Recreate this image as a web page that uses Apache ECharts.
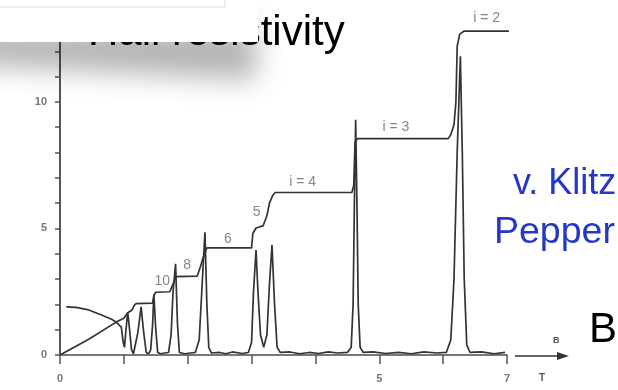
<!DOCTYPE html>
<html>
<head>
<meta charset="utf-8">
<script src="https://cdn.jsdelivr.net/npm/echarts@6/dist/echarts.min.js"></script>
<style>html,body{margin:0;padding:0;background:#fff;}#c{width:618px;height:390px;}</style>
</head>
<body>
<div id="c"></div>
<script>
// Magnetic field B (T) vs Hall resistivity rho_xy (kOhm)
const hallData = [
  [0,0],[0.45,0.62],[0.88,1.3],[1.0,1.45],[1.04,1.6],[1.08,1.7],[1.13,1.78],[1.16,1.95],[1.19,2.03],[1.45,2.05],
  [1.47,2.35],[1.5,2.48],[1.72,2.5],[1.77,2.8],[1.82,3.1],[2.15,3.12],[2.2,3.5],[2.26,4.0],[2.3,4.23],
  [3.0,4.23],[3.02,4.8],[3.07,5.02],[3.12,5.06],[3.18,5.1],[3.24,5.5],[3.28,6.0],[3.33,6.3],[3.37,6.42],
  [4.57,6.42],[4.6,6.7],[4.62,8.4],[4.66,8.55],[6.08,8.55],[6.12,8.7],[6.17,9.1],[6.2,10.0],[6.22,12.2],
  [6.26,12.68],[6.33,12.8],[7.03,12.8]
];
// Longitudinal resistivity rho_xx
const rhoXXData = [
  [0.1,1.9],[0.25,1.88],[0.45,1.78],[0.65,1.58],[0.8,1.42],[0.88,1.3],[0.96,1.1],
  [0.99,0.5],[1.01,0.3],[1.03,0.9],[1.06,1.7],[1.09,1.0],[1.12,0.2],[1.15,0.05],[1.18,0.1],[1.22,0.9],
  [1.27,1.9],[1.31,0.9],[1.35,0.1],[1.39,0.05],[1.42,0.2],[1.45,1.2],[1.47,2.4],[1.5,1.0],[1.53,0.1],
  [1.58,0.05],[1.64,0.08],[1.7,0.1],[1.74,0.8],[1.77,2.5],[1.81,3.6],[1.84,1.2],[1.87,0.1],[1.95,0.05],
  [2.05,0.08],[2.12,0.1],[2.18,0.6],[2.22,2.5],[2.27,4.85],[2.3,2.0],[2.33,0.3],[2.37,0.08],[2.5,0.1],
  [2.6,0.05],[2.7,0.12],[2.85,0.06],[2.95,0.1],[3.0,0.5],[3.03,2.5],[3.07,4.15],[3.1,2.5],[3.14,0.8],
  [3.19,0.3],[3.24,0.8],[3.28,2.8],[3.32,4.35],[3.36,2.0],[3.4,0.3],[3.45,0.1],[3.6,0.12],[3.75,0.05],
  [3.9,0.1],[4.05,0.06],[4.2,0.12],[4.35,0.08],[4.5,0.1],[4.56,0.3],[4.59,2.0],[4.61,6.0],[4.63,9.3],
  [4.65,6.0],[4.67,2.0],[4.7,0.3],[4.75,0.1],[4.9,0.12],[5.1,0.06],[5.3,0.1],[5.5,0.05],[5.7,0.12],
  [5.9,0.08],[6.05,0.1],[6.12,0.6],[6.17,3],[6.22,8],[6.27,11.8],[6.3,8],[6.33,3],[6.37,0.4],[6.42,0.1],
  [6.6,0.12],[6.8,0.05],[6.97,0.1]
];
// Plateau labels [B, value, text]
const plateauLabels = [
  [1.6,2.9,'10'],[1.99,3.55,'8'],[2.63,4.58,'6'],[3.08,5.65,'5'],
  [3.8,6.84,'i = 4'],[5.26,9.0,'i = 3'],[6.68,13.3,'i = 2']
];
const xLabelTicks = [0,5,7];
const yLabelTicks = [0,5,10];
const titleText = 'Hall resistivity';
const authorLines = ['v. Klitzing', 'Pepper'];

const chart = echarts.init(document.getElementById('c'), null, {renderer:'canvas'});
const font = "'Liberation Sans', Arial, sans-serif";
const OFF = 2000;
chart.setOption({
  animation: false,
  backgroundColor: '#fff',
  title: {
    text: titleText, left: 83, top: 7,
    textStyle: {fontSize: 42, fontWeight: 'normal', color: '#000', fontFamily: font}
  },
  grid: {left: 60, right: 111, top: 26, bottom: 35},
  xAxis: {
    type: 'value', min: 0, max: 7, interval: 1,
    axisLine: {lineStyle: {color: '#777', width: 2}},
    axisTick: {length: 9, lineStyle: {color: '#555', width: 1.5}},
    axisLabel: {
      margin: 18, fontSize: 11, color: '#777', fontFamily: font, fontWeight: 'bold',
      formatter: v => xLabelTicks.includes(v) ? String(v) : ''
    },
    splitLine: {show: false}
  },
  yAxis: {
    type: 'value', min: 0, max: 13, interval: 1,
    axisLine: {show: true, lineStyle: {color: '#555', width: 2}},
    axisTick: {show: true, length: 5, lineStyle: {color: '#555', width: 1.5}},
    axisLabel: {
      margin: 13, fontSize: 11, color: '#777', fontFamily: font, fontWeight: 'bold',
      formatter: v => yLabelTicks.includes(v) ? String(v) : ''
    },
    splitLine: {show: false}
  },
  series: [
    {type: 'line', data: hallData, showSymbol: false, lineStyle: {color: '#333', width: 1.7}},
    {type: 'line', data: rhoXXData, showSymbol: false, lineStyle: {color: '#333', width: 1.7}},
    {type: 'scatter', clip: false, symbolSize: 0,
     data: plateauLabels.map(d => ({value: [d[0], d[1]], name: d[2]})),
     label: {show: true, position: 'inside', formatter: p => p.name, fontSize: 14,
             color: '#666', fontFamily: font}}
  ],
  graphic: [
    // soft drop shadow: shape drawn off-canvas, only its blurred shadow is shown
    {type: 'polygon', z: 99,
     shape: {points: [[-40-OFF,28],[256-OFF,28],[256-OFF,80],[-40-OFF,64]]},
     style: {fill: '#000', shadowBlur: 28, shadowColor: 'rgba(0,0,0,0.3)', shadowOffsetX: OFF, shadowOffsetY: 0}},
    {type: 'rect', z: 100, shape: {x: -10, y: -10, width: 268, height: 52},
     style: {fill: '#fff'}},
    {type: 'polyline', z: 101, shape: {points: [[0,7],[225,7],[225,0]]}, style: {stroke: '#ddd', lineWidth: 1, fill: null}},
    {type: 'text', z: 50, style: {text: authorLines[0], x: 513, y: 166, font: "36px 'Liberation Sans', Arial", fill: '#2438c8'}},
    {type: 'text', z: 50, style: {text: authorLines[1], x: 494, y: 214, font: "37.5px 'Liberation Sans', Arial", fill: '#2438c8'}},
    {type: 'text', z: 50, style: {text: 'B', x: 589, y: 309, font: "42px 'Liberation Sans', Arial", fill: '#000'}},
    {type: 'line', z: 50, shape: {x1: 515, y1: 356, x2: 562, y2: 356}, style: {stroke: '#333', lineWidth: 1.5}},
    {type: 'polygon', z: 50, shape: {points: [[557,352],[569,356],[557,360]]}, style: {fill: '#333'}},
    {type: 'text', z: 50, style: {text: 'B', x: 553, y: 336, font: "bold 9px 'Liberation Sans', Arial", fill: '#555'}},
    {type: 'text', z: 50, style: {text: 'T', x: 539, y: 373, font: "bold 10px 'Liberation Sans', Arial", fill: '#555'}}
  ]
});
</script>
</body>
</html>
